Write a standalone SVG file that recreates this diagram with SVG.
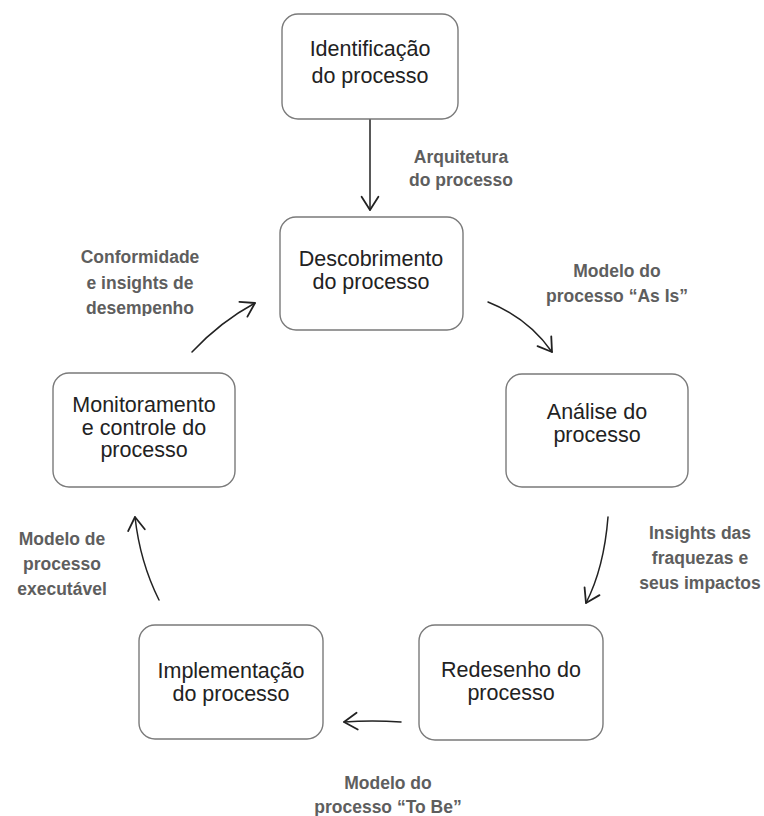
<svg xmlns="http://www.w3.org/2000/svg" width="764" height="816" viewBox="0 0 764 816">
<defs>
<style>
.box{fill:#fff;stroke:#7a7a7a;stroke-width:1.4}
.nt{font-family:"Liberation Sans",Arial,sans-serif;font-size:21.5px;fill:#222;text-anchor:middle}
.lb{font-family:"Liberation Sans",Arial,sans-serif;font-size:17.5px;font-weight:bold;fill:#5e5e5e;text-anchor:middle}
.ar{fill:none;stroke:#222;stroke-width:1.5;stroke-linecap:round}
</style>
<marker id="ah" markerUnits="userSpaceOnUse" markerWidth="24" markerHeight="24" refX="0" refY="0" viewBox="-14 -10 18 20" orient="auto">
<path d="M-11,-7 L0,0 L-11,7" fill="none" stroke="#222" stroke-width="1.5" stroke-linecap="round" stroke-linejoin="round"/>
</marker>
<clipPath id="clipConf"><rect x="0" y="230" width="260" height="86"/></clipPath>
</defs>
<rect width="764" height="816" fill="#fff"/>
<g id="n1">
<rect class="box" x="282" y="14" width="176" height="105" rx="16"/>
<text class="nt" x="370" y="56">Identificação</text>
<text class="nt" x="370" y="83">do processo</text>
</g>
<g id="n2">
<rect class="box" x="280" y="217" width="183" height="113" rx="16"/>
<text class="nt" x="371" y="266">Descobrimento</text>
<text class="nt" x="371" y="289">do processo</text>
</g>
<g id="n3">
<rect class="box" x="506" y="374" width="182" height="113" rx="16"/>
<text class="nt" x="597" y="419">Análise do</text>
<text class="nt" x="597" y="442">processo</text>
</g>
<g id="n4">
<rect class="box" x="53" y="373" width="182" height="114" rx="16"/>
<text class="nt" x="144" y="412">Monitoramento</text>
<text class="nt" x="144" y="435">e controle do</text>
<text class="nt" x="144" y="457">processo</text>
</g>
<g id="n5">
<rect class="box" x="139" y="625" width="184" height="114" rx="16"/>
<text class="nt" x="231" y="678">Implementação</text>
<text class="nt" x="231" y="701">do processo</text>
</g>
<g id="n6">
<rect class="box" x="419" y="625" width="184" height="115" rx="16"/>
<text class="nt" x="511" y="677">Redesenho do</text>
<text class="nt" x="511" y="700">processo</text>
</g>
<g id="connectors">
<path class="ar" d="M370,120 L370,210" marker-end="url(#ah)"/>
<path class="ar" d="M488,302 Q528,318 552,352" marker-end="url(#ah)"/>
<path class="ar" d="M608,517 Q604,568 586,603" marker-end="url(#ah)"/>
<path class="ar" d="M401,722 Q372,720 344,722" marker-end="url(#ah)"/>
<path class="ar" d="M159,600 Q140,562 135,517" marker-end="url(#ah)"/>
<path class="ar" d="M192,352 Q220,322 255,303" marker-end="url(#ah)"/>
</g>
<g id="labels">
<text class="lb" x="461" y="163">Arquitetura</text>
<text class="lb" x="461" y="186">do processo</text>
<g clip-path="url(#clipConf)">
<text class="lb" x="140" y="263">Conformidade</text>
<text class="lb" x="140" y="289">e insights de</text>
<text class="lb" x="140" y="314">desempenho</text>
</g>
<text class="lb" x="617" y="277">Modelo do</text>
<text class="lb" x="617" y="302">processo “As Is”</text>
<text class="lb" x="700" y="539">Insights das</text>
<text class="lb" x="700" y="564">fraquezas e</text>
<text class="lb" x="700" y="589">seus impactos</text>
<text class="lb" x="62" y="545">Modelo de</text>
<text class="lb" x="62" y="570">processo</text>
<text class="lb" x="62" y="595">executável</text>
<text class="lb" x="388" y="789">Modelo do</text>
<text class="lb" x="388" y="813">processo “To Be”</text>
</g>
</svg>
